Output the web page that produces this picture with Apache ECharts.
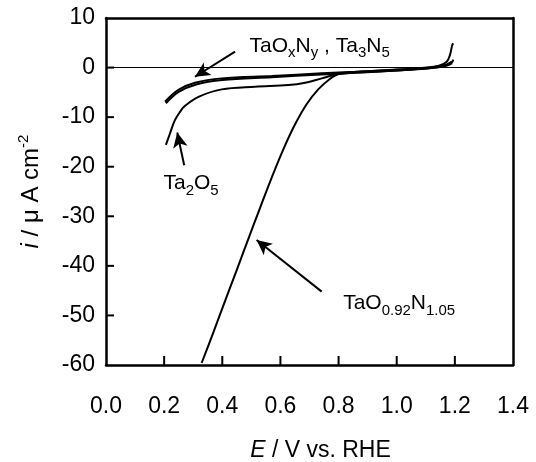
<!DOCTYPE html>
<html><head><meta charset="utf-8">
<script src="https://cdn.jsdelivr.net/npm/echarts@6/dist/echarts.min.js"></script>
<style>html,body{margin:0;padding:0;background:#fff}#c{width:536px;height:462px}</style>
</head><body><div id="c"></div>
<script>
// Potential E / V vs. RHE, current i / uA cm^-2
const taOxNy = [[0.203,-6.9],[0.249,-4.5],[0.306,-3.06],[0.398,-2.18],[0.570,-1.71],[0.742,-1.17],[0.857,-0.85],[0.971,-0.50],[1.086,-0.16],[1.143,0.30],[1.172,1.17],[1.183,2.52],[1.190,4.3],[1.194,4.9]];
const ta3N5 = [[0.206,-7.2],[0.250,-4.9],[0.310,-3.4],[0.400,-2.5],[0.570,-1.95],[0.740,-1.4],[0.857,-1.05],[0.970,-0.7],[1.086,-0.3],[1.140,0.05],[1.172,0.45],[1.188,0.9],[1.195,1.6]];
const ta2O5 = [[0.206,-15.6],[0.220,-13.3],[0.237,-10.6],[0.255,-8.9],[0.270,-7.8],[0.318,-5.9],[0.398,-4.4],[0.513,-3.87],[0.627,-3.53],[0.685,-3.06],[0.742,-2.18],[0.799,-1.31],[0.914,-0.85],[1.029,-0.50],[1.143,0.04],[1.178,0.5],[1.19,0.9]];
const taON = [[0.329,-59.6],[0.37,-53.3],[0.41,-47.0],[0.45,-40.8],[0.49,-34.5],[0.53,-28.3],[0.57,-22.2],[0.61,-16.5],[0.65,-11.5],[0.69,-7.4],[0.73,-4.4],[0.77,-2.3],[0.80,-1.3],[0.85,-0.95],[0.95,-0.6],[1.05,-0.25],[1.12,0.1],[1.17,0.6],[1.19,1.2]];

const xTicks = [0.0,0.2,0.4,0.6,0.8,1.0,1.2,1.4];
const yTicks = [10,0,-10,-20,-30,-40,-50,-60];
const X_MIN = 0, X_MAX = 1.4, Y_MIN = -60, Y_MAX = 10;

// annotation anchors (data coordinates)
const labelTaOxNy = [0.492, 4.4];
const labelTa2O5 = [0.196, -23.3];
const labelTaON = [0.814, -47.5];
const arrowTaOxNy = [[0.444, 3.2],[0.306,-1.85]];
const arrowTa2O5 = [[0.269,-19.7],[0.245,-13.1]];
const arrowTaON = [[0.742,-45.2],[0.518,-34.8]];

const FONT = 'Arial, "Liberation Sans", sans-serif';
const richStyles = {
  n: {fontSize: 21, lineHeight: 30, fontFamily: FONT, color: '#000'},
  s: {fontSize: 15, lineHeight: 15, verticalAlign: 'bottom', fontFamily: FONT, color: '#000'}
};

const chart = echarts.init(document.getElementById('c'), null, {renderer: 'canvas'});

function lineSeries(name, data) {
  return {
    name, type: 'line', data, showSymbol: false, smooth: 0.35, xAxisIndex: 0, yAxisIndex: 0,
    lineStyle: {color: '#000', width: 2}, silent: true, animation: false
  };
}
function arrow(a) {
  return [{coord: a[0], symbol: 'none'}, {coord: a[1], symbol: 'arrow', symbolSize: [11, 15]}];
}
function label(pos, text) {
  return {coord: pos, value: 0, symbol: 'circle', symbolSize: 1, itemStyle: {color: 'rgba(0,0,0,0)'},
    label: {show: true, position: 'right', distance: 0, formatter: text, rich: richStyles}};
}

const s0 = lineSeries('TaOxNy', taOxNy);
s0.markLine = {
  silent: true, animation: false, symbol: ['none','none'], label: {show: false},
  lineStyle: {color: '#000', width: 1, type: 'solid'},
  data: [{yAxis: 0}]
};
const s1 = lineSeries('Ta3N5', ta3N5);
s1.markLine = {
  silent: true, animation: false, label: {show: false},
  lineStyle: {color: '#000', width: 2, type: 'solid'},
  itemStyle: {color: '#000'},
  data: [arrow(arrowTaOxNy), arrow(arrowTa2O5), arrow(arrowTaON)]
};
const s2 = lineSeries('Ta2O5', ta2O5);
const s3 = lineSeries('TaON', taON);
s3.markPoint = {
  silent: true, animation: false,
  data: [
    label(labelTaOxNy, '{n|TaO}{s|x}{n|N}{s|y}{n| , Ta}{s|3}{n|N}{s|5}'),
    label(labelTa2O5, '{n|Ta}{s|2}{n|O}{s|5}'),
    label(labelTaON, '{n|TaO}{s|0.92}{n|N}{s|1.05}')
  ]
};

const frameLine = {show: true, onZero: false, lineStyle: {color: '#000', width: 2.5}};

chart.setOption({
  animation: false,
  backgroundColor: '#fff',
  textStyle: {fontFamily: FONT, color: '#000'},
  grid: {left: 106, right: 23, top: 18, bottom: 97, containLabel: false, outerBoundsMode: 'none'},
  xAxis: [{
    type: 'value', position: 'bottom', min: X_MIN, max: X_MAX, interval: 0.2,
    axisLine: frameLine,
    axisTick: {show: false},
    splitLine: {show: false},
    axisLabel: {fontSize: 23, color: '#000', margin: 30, fontFamily: FONT,
      formatter: v => { const t = xTicks.find(k => Math.abs(k - v) < 1e-6); return t === undefined ? '' : t.toFixed(1); }},
    name: '{it|E} / V vs. RHE', nameLocation: 'middle', nameGap: 74,
    nameTextStyle: {fontSize: 23, color: '#000', fontFamily: FONT, padding: [0,0,0,22],
      rich: {it: {fontStyle: 'italic', fontSize: 23, fontFamily: FONT, color: '#000'}}}
  }, {
    type: 'value', position: 'top', min: X_MIN, max: X_MAX, interval: 0.2,
    axisLine: frameLine, axisTick: {show: false}, axisLabel: {show: false}, splitLine: {show: false}
  }],
  yAxis: [{
    type: 'value', position: 'left', min: Y_MIN, max: Y_MAX, interval: 10,
    axisLine: frameLine,
    axisTick: {show: false},
    splitLine: {show: false},
    axisLabel: {fontSize: 23, color: '#000', margin: 11, fontFamily: FONT, padding: [8,0,0,0],
      formatter: v => { const t = yTicks.find(k => Math.abs(k - v) < 1e-6); return t === undefined ? '' : String(t); }},
    name: '{it|i} / \u03bc A cm{sup|-2}', nameLocation: 'middle', nameGap: 60, nameRotate: 90,
    nameTextStyle: {fontSize: 24, color: '#000', fontFamily: FONT, lineHeight: 30,
      rich: {
        it: {fontStyle: 'italic', fontSize: 24, lineHeight: 30, fontFamily: FONT, color: '#000'},
        sup: {fontSize: 15, lineHeight: 15, verticalAlign: 'top', fontFamily: FONT, color: '#000'}
      }}
  }, {
    type: 'value', position: 'right', min: Y_MIN, max: Y_MAX, interval: 10,
    axisLine: frameLine, axisTick: {show: false}, axisLabel: {show: false}, splitLine: {show: false}
  }],
  series: [s0, s1, s2, s3]
});

// inward tick marks, positioned through the axes' own scales
const finder = {xAxisIndex: 0, yAxisIndex: 0};
const tickEls = [];
xTicks.filter(v => v > X_MIN && v < X_MAX).forEach(v => {
  const p = chart.convertToPixel(finder, [v, Y_MIN]);
  tickEls.push({type: 'line', z: 100, silent: true,
    shape: {x1: p[0], y1: p[1], x2: p[0], y2: p[1] - 9},
    style: {stroke: '#000', lineWidth: 2}});
});
yTicks.filter(v => v > Y_MIN && v < Y_MAX).forEach(v => {
  const p = chart.convertToPixel(finder, [X_MIN, v]);
  tickEls.push({type: 'line', z: 100, silent: true,
    shape: {x1: p[0], y1: p[1], x2: p[0] + 8, y2: p[1]},
    style: {stroke: '#000', lineWidth: 2}});
});
chart.setOption({graphic: {elements: tickEls}});
</script></body></html>
